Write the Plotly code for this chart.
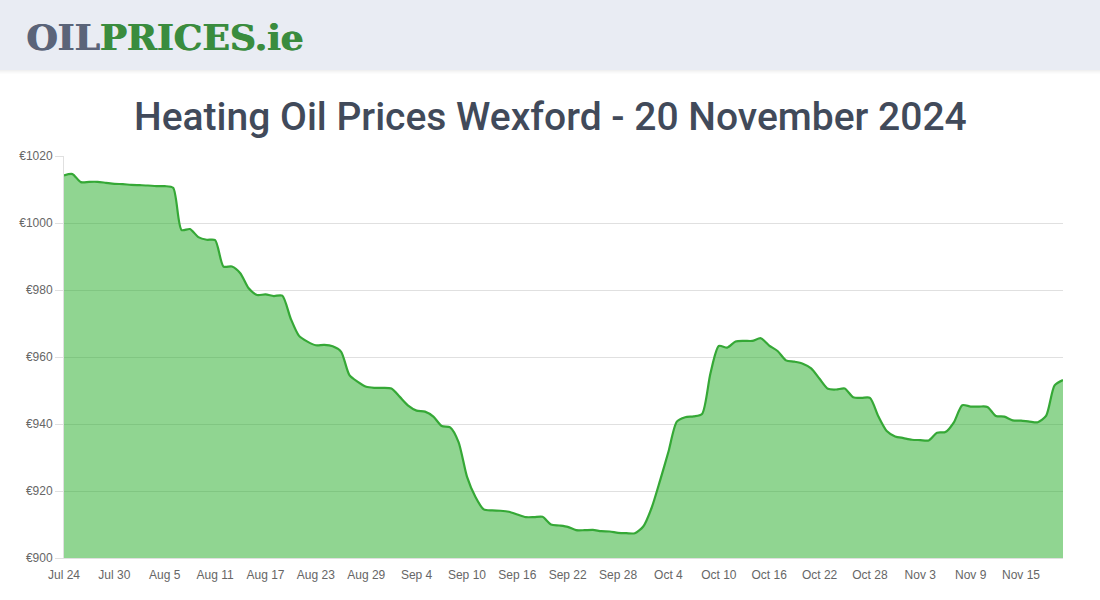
import pandas as pd
import plotly.graph_objects as go

# ---- data ----
start_date = "2024-07-24"
prices = [
    1014.2, 1014.6, 1012.2, 1012.3, 1012.3, 1012.0, 1011.7, 1011.6, 1011.4, 1011.3,
    1011.2, 1011.0, 1011.0, 1010.5, 997.9, 998.2, 995.8, 995.0, 994.9, 987.0,
    987.0, 985.0, 980.5, 978.5, 978.7, 978.2, 978.3, 971.5, 966.3, 964.6,
    963.5, 963.6, 963.2, 961.6, 954.6, 952.6, 951.1, 950.8, 950.8, 950.6,
    948.1, 945.5, 944.0, 943.7, 942.2, 939.4, 939.0, 934.6, 924.3, 918.3,
    914.5, 914.2, 914.1, 913.8, 913.0, 912.2, 912.2, 912.3, 910.0, 909.7,
    909.3, 908.3, 908.3, 908.4, 908.0, 907.9, 907.5, 907.4, 907.4, 909.4,
    915.0, 923.1, 931.7, 940.7, 942.0, 942.3, 943.0, 955.1, 963.3, 962.8,
    964.6, 964.8, 964.8, 965.6, 963.4, 961.8, 959.0, 958.6, 958.0, 956.6,
    953.5, 950.5, 950.3, 950.6, 948.0, 947.8, 947.8, 942.3, 937.9, 936.3,
    935.8, 935.3, 935.2, 935.1, 937.4, 937.6, 940.5, 945.6, 945.2, 945.2,
    945.1, 942.4, 942.2, 941.1, 941.0, 940.7, 940.5, 942.5, 951.5, 953.1,
]
dates = pd.date_range(start_date, periods=len(prices), freq="D")

y_ticks = [900, 920, 940, 960, 980, 1000, 1020]
y_tick_labels = ["€" + str(v) for v in y_ticks]
x_tick_dates = pd.date_range(start_date, "2024-11-20", freq="6D")
x_tick_labels = [d.strftime("%b ") + str(d.day) for d in x_tick_dates]

title_text = "Heating Oil Prices Wexford - 20 November 2024"

# ---- figure ----
W, H = 1100, 600
L, R, T, B = 64, 37, 156, 42
pw, ph = W - L - R, H - T - B

def px_to_paper_x(px):
    return (px - L) / pw

def px_to_paper_y(py):
    return (H - B - py) / ph

fig = go.Figure()
fig.add_trace(go.Scatter(
    x=dates, y=prices, mode="lines",
    line=dict(color="#35a836", width=2.2, shape="spline", smoothing=0.7),
    fill="tozeroy", fillcolor="rgba(33,171,35,0.5)",
    hoverinfo="skip",
))

shapes = []
# header band
shapes.append(dict(type="rect", xref="paper", yref="paper",
                   x0=px_to_paper_x(0), x1=px_to_paper_x(W),
                   y0=px_to_paper_y(70), y1=px_to_paper_y(0),
                   fillcolor="#e9ecf3", line=dict(width=0), layer="below"))
# soft shadow beneath header
for i, a in enumerate([0.06, 0.04, 0.025, 0.012]):
    shapes.append(dict(type="rect", xref="paper", yref="paper",
                       x0=px_to_paper_x(0), x1=px_to_paper_x(W),
                       y0=px_to_paper_y(71 + i), y1=px_to_paper_y(70 + i),
                       fillcolor=f"rgba(0,0,0,{a})", line=dict(width=0), layer="below"))

logo_html = '<span style="color:#5b6479">OIL</span><span style="color:#3a8c3e">PRICES.ie</span>'
annotations = []
# logo drawn twice with a 1px offset to make it heavier
for dx in (0, 1):
    annotations.append(dict(
        xref="paper", yref="paper", x=px_to_paper_x(24 + dx), y=px_to_paper_y(37),
        xanchor="left", yanchor="middle", showarrow=False,
        text=logo_html,
        font=dict(family="DejaVu Serif", size=36, weight="bold")))
annotations.append(dict(
    xref="paper", yref="paper", x=px_to_paper_x(550), y=px_to_paper_y(117),
    xanchor="center", yanchor="middle", showarrow=False,
    text=title_text,
    font=dict(family="Roboto", size=39, weight=500, color="#414a5a")))

fig.update_layout(
    width=W, height=H,
    margin=dict(l=L, r=R, t=T, b=B, pad=0),
    paper_bgcolor="white", plot_bgcolor="white",
    showlegend=False,
    shapes=shapes, annotations=annotations,
    font=dict(family="Liberation Sans, Arial, sans-serif", size=12, color="#666666"),
)
fig.update_xaxes(
    type="date",
    range=[dates[0], dates[-1]],
    tickvals=list(x_tick_dates), ticktext=x_tick_labels,
    showgrid=False, zeroline=False,
    showline=True, linecolor="#e0e0e0", linewidth=1,
    ticks="", ticklabelstandoff=6,
    tickfont=dict(size=12, color="#666666"),
    fixedrange=True,
)
fig.update_yaxes(
    range=[900, 1020],
    tickvals=y_ticks, ticktext=y_tick_labels,
    showgrid=True, gridcolor="#e0e0e0", gridwidth=1,
    zeroline=False,
    showline=True, linecolor="#e0e0e0", linewidth=1,
    ticks="outside", ticklen=8, tickcolor="#e0e0e0",
    tickfont=dict(size=12, color="#666666"),
    ticklabelstandoff=0,
    fixedrange=True,
)

fig.write_html("out.html", config={"displayModeBar": False, "staticPlot": True})
